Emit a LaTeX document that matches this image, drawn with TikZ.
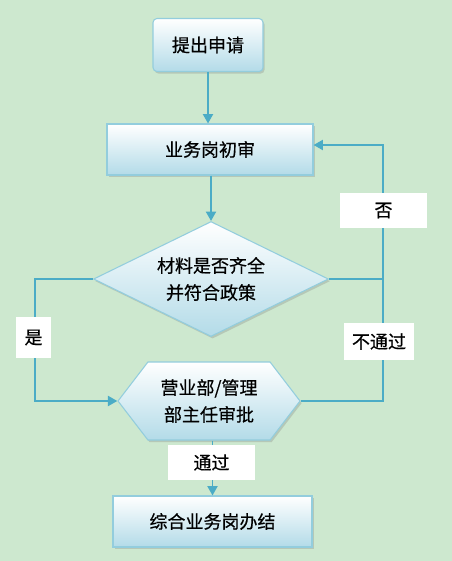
\documentclass[tikz,border=0pt]{standalone}
\usepackage{fontspec}
\setmainfont{Noto Sans CJK SC}[FakeBold=0.5]
\usetikzlibrary{shapes.geometric,shapes.symbols,shadows,arrows.meta}

\definecolor{bgcol}{HTML}{CDE8CF}
\definecolor{linecol}{HTML}{4BACC6}
\definecolor{boxedge}{HTML}{93CDDD}
\definecolor{boxlow}{HTML}{B3DBE8}

\tikzset{
  box/.style={draw=boxedge, line width=0.8pt, top color=white, bottom color=boxlow,
    drop shadow={shadow xshift=1.2pt, shadow yshift=-1.6pt, opacity=0.3},
    font=\fontsize{13.5}{20.25}\selectfont, align=center, inner sep=0pt},
  flow/.style={draw=linecol, line width=1.4pt, -{Triangle[length=7pt,width=7.5pt]}},
  link/.style={draw=linecol, line width=1.4pt},
  tag/.style={fill=white, font=\fontsize{13.5}{16}\selectfont, inner sep=0pt}
}

\begin{document}
\begin{tikzpicture}[x=0.75pt, y=-0.75pt]
  %
  \path[use as bounding box, fill=bgcol] (0,0) rectangle (452,561);
  %
  \node[box, rounded corners=3pt, minimum width=82.5pt, minimum height=39.75pt] (apply) at (208,45) {提出申请};
  \node[box, minimum width=154.5pt, minimum height=38.25pt] (review) at (210,149.5) {业务岗初审};
  \node[box, diamond, shape aspect=2, minimum width=176.25pt, minimum height=86.25pt] (check) at (211,279) {材料是否齐全\\并符合政策};
  \node[box, signal, signal to=west and east, signal pointer angle=105, minimum width=136.5pt, minimum height=58.5pt] (approve) at (209,401) {营业部/管理\\部主任审批};
  \node[box, minimum width=149.25pt, minimum height=38.25pt] (finish) at (212.5,521.5) {综合业务岗办结};
  %
  \coordinate (rtop) at (383,145);
  \coordinate (rmid) at (383,279);
  \coordinate (lcol) at (35,279);
  %
  \draw[flow] (apply.south) -- (apply.south |- review.north);
  \draw[flow] (review.south -| check.north) -- (check.north);
  \draw[flow] (approve.south -| finish.north) -- (finish.north);
  \draw[flow] (check.east) -- (rmid) -- (rtop) -- (rtop -| review.east);
  \draw[link] (approve.east) -| (rmid);
  \draw[flow] (check.west) -- (lcol) |- (approve.west);
  %
  \node[tag, minimum width=65.25pt, minimum height=26.25pt] (no) at (383.5,210.5) {否};
  \node[tag, minimum width=52.5pt, minimum height=27.75pt] (fail) at (379,341.5) {不通过};
  \node[tag, minimum width=26.25pt, minimum height=30.75pt] (yes) at (33.5,337.5) {是};
  \node[tag, minimum width=65.25pt, minimum height=26.25pt] (pass) at (211.5,462.5) {通过};
\end{tikzpicture}
\end{document}
